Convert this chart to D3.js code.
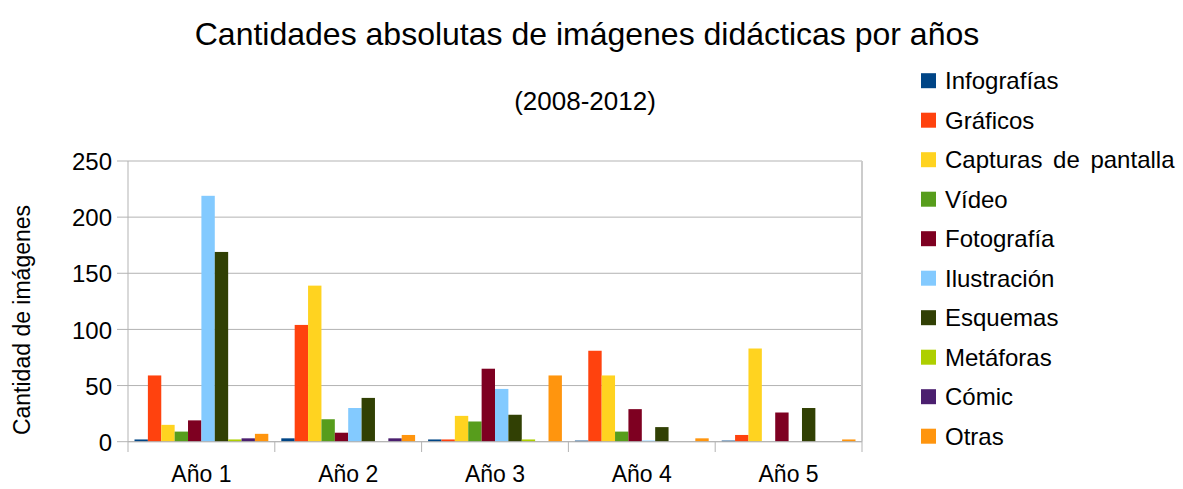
<!DOCTYPE html>
<html>
<head>
<meta charset="utf-8">
<script src="https://cdn.jsdelivr.net/npm/d3@7"></script>
<style>
  body { margin: 0; background: #fff; }
  text { font-family: "Liberation Sans", Arial, sans-serif; fill: #000; }
</style>
</head>
<body>
<svg id="chart" width="1183" height="489"></svg>
<script>
const years = ["Año 1", "Año 2", "Año 3", "Año 4", "Año 5"];
const series = ["Infografías", "Gráficos", "Capturas de pantalla", "Vídeo", "Fotografía",
  "Ilustración", "Esquemas", "Metáforas", "Cómic", "Otras"];
const colors = ["#004586", "#ff420e", "#ffd320", "#579d1c", "#7e0021",
  "#83caff", "#314004", "#aecf00", "#4b1f6f", "#ff950e"];

// one array per year, same order as series
const ano1 = [2, 59, 15, 9, 19, 219, 169, 2, 3, 7];
const ano2 = [3, 104, 139, 20, 8, 30, 39, 0, 3, 6];
const ano3 = [2, 2, 23, 18, 65, 47, 24, 2, 0, 59];
const ano4 = [1, 81, 59, 9, 29, 1, 13, 0, 0, 3];
const ano5 = [1, 6, 83, 0, 26, 0, 30, 0, 0, 2];
const values = [ano1, ano2, ano3, ano4, ano5];

const yTicks = [0, 50, 100, 150, 200, 250];

const svg = d3.select("#chart");
const plotL = 128, plotR = 862, plotT = 161, plotB = 441.7;

const x0 = d3.scaleBand().domain(years).range([plotL, plotR]).padding(0);
const x1 = d3.scaleBand().domain(series).range([6.5, x0.bandwidth() - 6.5]).padding(0);
const y = d3.scaleLinear().domain([0, 250]).range([plotB, plotT]);

// grid
svg.append("g")
  .selectAll("line")
  .data(yTicks)
  .enter().append("line")
  .attr("x1", plotL - 11).attr("x2", plotR)
  .attr("y1", d => y(d)).attr("y2", d => y(d))
  .attr("stroke", "#b3b3b3").attr("stroke-width", 1);

// right border
svg.append("line")
  .attr("x1", plotR).attr("x2", plotR)
  .attr("y1", plotT).attr("y2", plotB)
  .attr("stroke", "#cccccc").attr("stroke-width", 2);

// bars
const groups = svg.append("g")
  .selectAll("g")
  .data(values)
  .enter().append("g")
  .attr("transform", (d, i) => `translate(${x0(years[i])},0)`);

groups.selectAll("rect")
  .data(d => d.map((v, i) => ({ name: series[i], value: v, color: colors[i] })))
  .enter().append("rect")
  .attr("x", d => x1(d.name))
  .attr("width", x1.bandwidth())
  .attr("y", d => y(d.value))
  .attr("height", d => plotB - y(d.value))
  .attr("fill", d => d.color);

// y axis
const yAxis = svg.append("g")
  .attr("transform", `translate(${plotL},0)`)
  .call(d3.axisLeft(y).tickValues(yTicks).tickSize(11).tickPadding(5));
yAxis.select(".domain").remove();
yAxis.selectAll(".tick line").remove();
yAxis.selectAll("text")
  .style("font-family", "Liberation Sans, Arial, sans-serif")
  .style("font-size", "24px")
  .attr("fill", "#000")
  .attr("dy", "0.36em");

svg.append("line")
  .attr("x1", plotL).attr("x2", plotL)
  .attr("y1", plotT).attr("y2", 452)
  .attr("stroke", "#b3b3b3");

// x axis
svg.append("line")
  .attr("x1", plotL).attr("x2", plotR)
  .attr("y1", plotB).attr("y2", plotB)
  .attr("stroke", "#b3b3b3");

svg.append("g")
  .selectAll("line")
  .data(years.slice(1).map(d => x0(d)).concat([plotR]))
  .enter().append("line")
  .attr("x1", d => d).attr("x2", d => d)
  .attr("y1", plotB).attr("y2", 452)
  .attr("stroke", "#b3b3b3");

svg.append("g")
  .selectAll("text")
  .data(years)
  .enter().append("text")
  .attr("x", d => x0(d) + x0.bandwidth() / 2)
  .attr("y", 482)
  .attr("text-anchor", "middle")
  .style("font-size", "23px")
  .text(d => d);

// axis title
svg.append("text")
  .attr("transform", "translate(30,320) rotate(-90)")
  .attr("text-anchor", "middle")
  .style("font-size", "23px")
  .text("Cantidad de imágenes");

// titles
svg.append("text")
  .attr("x", 587).attr("y", 45)
  .attr("text-anchor", "middle")
  .style("font-size", "32px")
  .text("Cantidades absolutas de imágenes didácticas por años");

svg.append("text")
  .attr("x", 585).attr("y", 110)
  .attr("text-anchor", "middle")
  .style("font-size", "26px")
  .text("(2008-2012)");

// legend
const legend = svg.append("g")
  .selectAll("g")
  .data(series)
  .enter().append("g")
  .attr("transform", (d, i) => `translate(921,${80.7 + i * 39.5})`);

legend.append("rect")
  .attr("x", 0).attr("y", -7.5)
  .attr("width", 15).attr("height", 15)
  .attr("fill", (d, i) => colors[i]);

legend.append("text")
  .attr("x", 24).attr("y", 0)
  .attr("dy", "0.36em")
  .style("font-size", "24px")
  .style("word-spacing", "4px")
  .text(d => d);
</script>
</body>
</html>
